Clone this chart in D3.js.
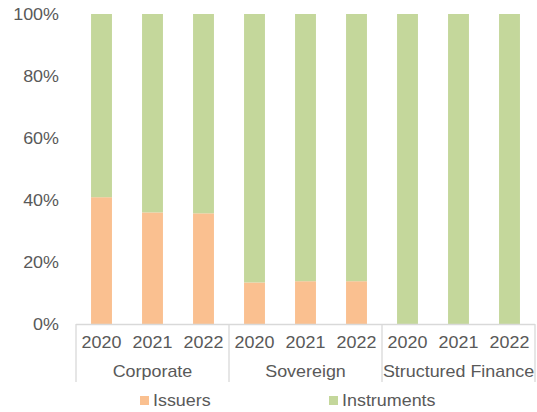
<!DOCTYPE html>
<html><head><meta charset="utf-8">
<script src="https://cdn.jsdelivr.net/npm/d3@7"></script>
<style>body{margin:0;background:#fff}svg{display:block}text{font-family:"Liberation Sans",Arial,sans-serif;fill:#595959}</style>
</head><body><svg id="c" width="537" height="412"></svg>
<script>
const groups = ["Corporate","Sovereign","Structured Finance"];
const years = ["2020","2021","2022"];
const issuers = [40.9,36.0,35.7, 13.4,13.8,13.8, 0,0,0];
const instruments = issuers.map(v => 100 - v);
const yTicks = [0,20,40,60,80,100];
const seriesNames = ["Issuers","Instruments"];
const colors = ["#FAC090","#C4D79B"];

const svg = d3.select("#c");
const L = 76, R = 535, T = 14, B = 324;
const FS = 16, SX = 1.12;
const cats = [];
groups.forEach(g => years.forEach(y => cats.push(g + "|" + y)));
const x = d3.scaleBand().domain(cats).range([L, R]).paddingInner(0.59).paddingOuter(0.295);
const y = d3.scaleLinear().domain([0,100]).range([B, T]);

function label(parent, px, py, txt, anchor) {
  parent.append("text")
    .attr("transform", `translate(${px},${py}) scale(${SX},1)`)
    .attr("dy", "0.35em").attr("text-anchor", anchor).attr("font-size", FS).text(txt);
}

// y labels
const yl = svg.append("g");
yTicks.forEach(d => label(yl, 59, y(d), d + "%", "end"));

// bars
const data = cats.map((c,i) => ({c, a: issuers[i], b: instruments[i]}));
const g = svg.append("g");
g.selectAll("rect.a").data(data).join("rect").attr("class","a")
  .attr("x", d => x(d.c)).attr("width", x.bandwidth())
  .attr("y", d => y(d.a)).attr("height", d => y(0) - y(d.a))
  .attr("fill", colors[0]);
g.selectAll("rect.b").data(data).join("rect").attr("class","b")
  .attr("x", d => x(d.c)).attr("width", x.bandwidth())
  .attr("y", d => y(d.a + d.b)).attr("height", d => y(d.a) - y(d.a + d.b))
  .attr("fill", colors[1]);

// axis line
const groupW = (R - L) / groups.length;
svg.append("line").attr("x1", L).attr("x2", R).attr("y1", B + 0.5).attr("y2", B + 0.5)
  .attr("stroke", "#D9D9D9").attr("stroke-width", 1.3);
d3.range(groups.length + 1).forEach(i => {
  const xx = L + i * groupW;
  svg.append("line").attr("x1", xx).attr("x2", xx).attr("y1", B).attr("y2", 382)
    .attr("stroke", "#D9D9D9").attr("stroke-width", 1.3);
});
// year labels
const xl = svg.append("g");
data.forEach(d => label(xl, x(d.c) + x.bandwidth()/2, 342, d.c.split("|")[1], "middle"));
// group labels
groups.forEach((d,i) => label(xl, L + (i + 0.5) * groupW, 371, d, "middle"));

// legend
const lx = [140, 329];
seriesNames.forEach((s,i) => {
  svg.append("rect").attr("x", lx[i]).attr("y", 396).attr("width", 9).attr("height", 9).attr("fill", colors[i]);
  label(svg, lx[i] + 13, 400, s, "start");
});
</script></body></html>
